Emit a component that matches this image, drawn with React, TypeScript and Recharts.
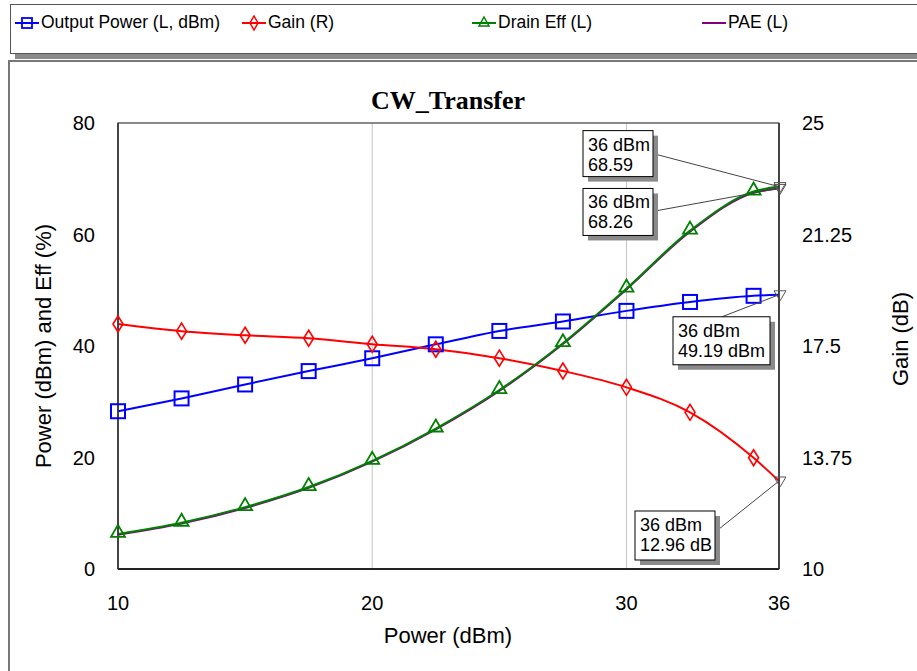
import React from "react";
import { LineChart, Line, XAxis, YAxis, CartesianGrid, ReferenceArea } from "recharts";

// input power sweep (dBm)
const inputPower = [10, 12.5, 15, 17.5, 20, 22.5, 25, 27.5, 30, 32.5, 35, 36];
const outputPower = [28.3, 30.6, 33.1, 35.5, 37.8, 40.3, 42.7, 44.4, 46.3, 47.9, 49.0, 49.19];
const gainDb = [18.24, 18.0, 17.86, 17.76, 17.56, 17.39, 17.09, 16.66, 16.11, 15.27, 13.74, 12.96];
const drainEff = [6.3, 8.3, 11.1, 14.7, 19.4, 25.2, 32.1, 40.5, 50.3, 60.7, 67.7, 68.59];
const pae = [6.15, 8.15, 10.95, 14.55, 19.25, 25.05, 31.95, 40.35, 50.15, 60.5, 67.5, 68.26];

const xTicks = [10, 20, 30, 36];
const leftTicks = [0, 20, 40, 60, 80];
const rightTicks = [10, 13.75, 17.5, 21.25, 25];

const data = inputPower.map((x, i) => ({
  x,
  out: outputPower[i],
  gain: gainDb[i],
  de: drainEff[i],
  pae: pae[i],
}));

const FONT = "Arial, 'Liberation Sans', sans-serif";
const LAST_X = inputPower[inputPower.length - 1];

// where the readout box sits relative to the marked point
type Note = { dx: number; dy: number; w: number; h: number; lx: number; ly: number; unit: string };
const notes: Record<string, Note> = {
  out: { dx: -106, dy: 22, w: 97, h: 48, lx: -57, ly: 22, unit: " dBm" },
  gain: { dx: -144, dy: 30, w: 80, h: 49, lx: -60, ly: 48, unit: " dB" },
  de: { dx: -196, dy: -56, w: 70, h: 46, lx: -122, ly: -32, unit: "" },
  pae: { dx: -196, dy: 0, w: 70, h: 47, lx: -121, ly: 22, unit: "" },
};

function marker(shape: string, color: string, cx: number, cy: number) {
  if (shape === "square")
    return <rect x={cx - 7} y={cy - 7} width={14} height={14} fill="none" stroke={color} strokeWidth={2} />;
  if (shape === "diamond")
    return (
      <polygon
        points={`${cx},${cy - 8} ${cx + 5},${cy} ${cx},${cy + 8} ${cx - 5},${cy}`}
        fill="none"
        stroke={color}
        strokeWidth={1.6}
      />
    );
  if (shape === "triangle")
    return (
      <polygon
        points={`${cx},${cy - 9} ${cx + 7},${cy + 3} ${cx - 7},${cy + 3}`}
        fill="none"
        stroke={color}
        strokeWidth={1.8}
      />
    );
  return null;
}

function makeDot(key: string, shape: string, color: string) {
  return (props: any) => {
    const { cx, cy, index, payload } = props;
    if (cx == null || cy == null) return <g key={index} />;
    if (payload.x === LAST_X) {
      const n = notes[key];
      const bx = cx + n.dx;
      const by = cy + n.dy;
      return (
        <g key={index}>
          <line x1={cx + n.lx} y1={cy + n.ly} x2={cx} y2={cy} stroke="#444" strokeWidth={1} />
          <polygon
            points={`${cx - 5},${cy - 4} ${cx + 7},${cy - 4} ${cx + 1},${cy + 6}`}
            fill="none"
            stroke="#555"
            strokeWidth={1}
          />
          <rect x={bx + 5} y={by + 5} width={n.w} height={n.h} fill="#8a8a8a" />
          <rect x={bx} y={by} width={n.w} height={n.h} fill="#fff" stroke="#000" strokeWidth={1} />
          <text x={bx + 5} y={by + 20} fontSize={18} fontFamily={FONT} fill="#000">
            {payload.x} dBm
          </text>
          <text x={bx + 5} y={by + 40} fontSize={18} fontFamily={FONT} fill="#000">
            {payload[key].toFixed(2)}
            {n.unit}
          </text>
        </g>
      );
    }
    return <g key={index}>{marker(shape, color, cx, cy)}</g>;
  };
}

const legendItems = [
  { label: "Output Power (L, dBm)", color: "#0000ff", shape: "square", x: 14 },
  { label: "Gain (R)", color: "#ff0000", shape: "diamond", x: 241 },
  { label: "Drain Eff (L)", color: "#008000", shape: "triangle", x: 471 },
  { label: "PAE (L)", color: "#800080", shape: "none", x: 701 },
];

function LegendIcon({ shape, color }: { shape: string; color: string }) {
  return (
    <svg width={24} height={18} style={{ display: "block" }}>
      <line x1={0} y1={9} x2={24} y2={9} stroke={color} strokeWidth={2} />
      {shape === "square" && <rect x={7} y={4} width={10} height={10} fill="none" stroke={color} strokeWidth={1.8} />}
      {shape === "diamond" && (
        <polygon points="12,2 16,9 12,16 8,9" fill="none" stroke={color} strokeWidth={1.5} />
      )}
      {shape === "triangle" && (
        <polygon points="12,3 17,12 7,12" fill="none" stroke={color} strokeWidth={1.5} />
      )}
    </svg>
  );
}

export default function App() {
  return (
    <div style={{ position: "absolute", left: 0, top: 0, width: 917, height: 671, background: "#fff", overflow: "hidden" }}>
      {/* legend panel */}
      <div
        style={{
          position: "absolute",
          left: 10,
          top: 4,
          width: 930,
          height: 48,
          border: "1px solid #555",
          background: "#fff",
          boxShadow: "5px 5px 0 #8a8a8a",
        }}
      >
        {legendItems.map((it) => (
          <div
            key={it.label}
            style={{ position: "absolute", left: it.x - 10, top: 7, display: "flex", alignItems: "center", fontFamily: FONT, fontSize: 17.5 }}
          >
            <LegendIcon shape={it.shape} color={it.color} />
            <span style={{ marginLeft: 2 }}>{it.label}</span>
          </div>
        ))}
      </div>

      {/* chart panel */}
      <div
        style={{
          position: "absolute",
          left: 8,
          top: 60,
          width: 940,
          height: 640,
          borderLeft: "2px solid #777",
          borderTop: "2px solid #777",
          background: "#fff",
        }}
      />

      <div style={{ position: "absolute", left: 0, top: 0 }}>
        <LineChart width={917} height={671} data={data} margin={{ top: 123, right: 78, bottom: 72, left: 58 }}>
          <CartesianGrid stroke="#c4c4c4" strokeWidth={1} />
          <XAxis
            dataKey="x"
            type="number"
            domain={[10, 36]}
            ticks={xTicks}
            height={30}
            tickLine={false}
            tickSize={0}
            tickMargin={27}
            axisLine={{ stroke: "#000", strokeWidth: 1.5 }}
            tick={{ fill: "#000", fontSize: 20, fontFamily: FONT }}
          />
          <YAxis
            yAxisId="left"
            domain={[0, 80]}
            ticks={leftTicks}
            width={60}
            tickLine={false}
            tickSize={0}
            tickMargin={23}
            axisLine={{ stroke: "#333", strokeWidth: 1.5 }}
            tick={{ fill: "#000", fontSize: 20, fontFamily: FONT }}
          />
          <YAxis
            yAxisId="right"
            orientation="right"
            domain={[10, 25]}
            ticks={rightTicks}
            width={60}
            tickLine={false}
            tickSize={0}
            tickMargin={23}
            axisLine={{ stroke: "#333", strokeWidth: 1.5 }}
            tick={{ fill: "#000", fontSize: 20, fontFamily: FONT }}
          />
          <ReferenceArea yAxisId="left" x1={10} x2={36} y1={0} y2={80} fill="none" stroke="#333" strokeWidth={1.2} />
          <Line
            yAxisId="left"
            dataKey="out"
            type="monotone"
            stroke="#0000ff"
            strokeWidth={2}
            dot={makeDot("out", "square", "#0000ff")}
            isAnimationActive={false}
          />
          <Line
            yAxisId="right"
            dataKey="gain"
            type="monotone"
            stroke="#ff0000"
            strokeWidth={2}
            dot={makeDot("gain", "diamond", "#ff0000")}
            isAnimationActive={false}
          />
          <Line
            yAxisId="left"
            dataKey="pae"
            type="monotone"
            stroke="#800080"
            strokeWidth={2}
            dot={makeDot("pae", "none", "#800080")}
            isAnimationActive={false}
          />
          <Line
            yAxisId="left"
            dataKey="de"
            type="monotone"
            stroke="#008000"
            strokeWidth={2}
            dot={makeDot("de", "triangle", "#008000")}
            isAnimationActive={false}
          />
        </LineChart>
      </div>

      {/* titles */}
      <svg width={917} height={671} style={{ position: "absolute", left: 0, top: 0, pointerEvents: "none" }}>
        <text x={448} y={109} textAnchor="middle" fontFamily="'Times New Roman', 'Liberation Serif', serif" fontWeight="bold" fontSize={26}>
          CW_Transfer
        </text>
        <text x={448} y={643} textAnchor="middle" fontFamily={FONT} fontSize={22}>
          Power (dBm)
        </text>
        <text x={51} y={346} textAnchor="middle" fontFamily={FONT} fontSize={22} transform="rotate(-90, 51, 346)">
          Power (dBm) and Eff (%)
        </text>
        <text x={908} y={339} textAnchor="middle" fontFamily={FONT} fontSize={22} transform="rotate(-90, 908, 339)">
          Gain (dB)
        </text>
      </svg>
    </div>
  );
}
